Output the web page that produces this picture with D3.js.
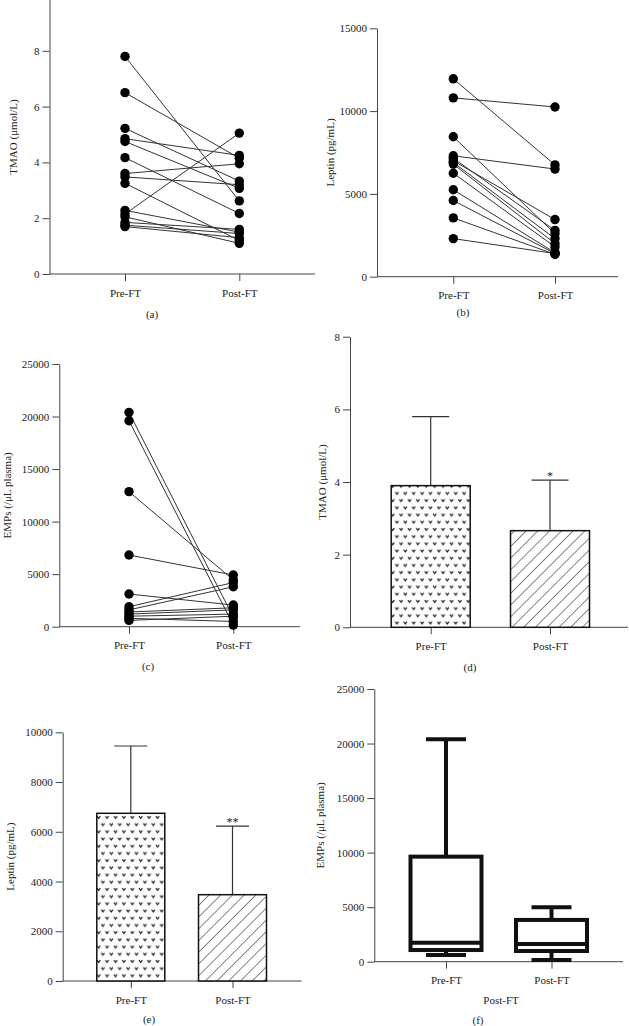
<!DOCTYPE html>
<html>
<head>
<meta charset="utf-8">
<script src="https://cdn.jsdelivr.net/npm/d3@7"></script>
<style>
body { margin: 0; background: #fff; }
text { font-family: "Liberation Serif", "Times New Roman", serif; fill: #222; }
</style>
</head>
<body>
<svg id="fig" width="629" height="1026"></svg>
<script>
const groups = ["Pre-FT", "Post-FT"];

// (a) TMAO, paired before / after
const tmaoPre  = [7.8, 6.5, 5.22, 4.85, 4.75, 4.17, 3.6, 3.48, 3.25, 2.28, 2.15, 2.05, 1.85, 1.75, 1.7];
const tmaoPost = [2.62, 4.15, 3.33, 4.25, 3.07, 2.17, 3.95, 3.2, 1.2, 1.5, 5.05, 1.1, 1.6, 1.45, 1.3];
const tmaoTicks = [0, 2, 4, 6, 8];

// (b) Leptin, paired
const leptinPre  = [11950, 10800, 8450, 7300, 7150, 7000, 6900, 6800, 6250, 5250, 4600, 3550, 2300];
const leptinPost = [6750, 10250, 2600, 6500, 2800, 3450, 2300, 2000, 1800, 1450, 1400, 1350, 1400];
const leptinTicks = [0, 5000, 10000, 15000];

// (c) EMPs, paired
const empPre  = [20400, 19600, 12850, 6820, 3110, 1900, 1600, 1400, 1200, 1000, 800, 600];
const empPost = [900, 150, 4450, 4920, 2060, 4200, 3800, 1800, 1600, 1200, 500, 1000];
const empTicks = [0, 5000, 10000, 15000, 20000, 25000];

// (d) TMAO mean + SD
const tmaoMean = [3.9, 2.66];
const tmaoSD = [1.9, 1.39];
const tmaoSig = ["", "*"];

// (e) Leptin mean + SD
const leptinMean = [6743, 3470];
const leptinSD = [2707, 2760];
const leptinSig = ["", "**"];
const leptinBarTicks = [0, 2000, 4000, 6000, 8000, 10000];

// (f) EMPs box plot
const empMin = [615, 150];
const empQ1 = [1070, 980];
const empMedian = [1740, 1620];
const empQ3 = [9630, 3830];
const empMax = [20400, 4990];

const panelLetters = ["(a)", "(b)", "(c)", "(d)", "(e)", "(f)"];

let svg = d3.select("#fig");
let fmt = d3.format("d");
let fs = 11;

let defs = svg.append("defs");
// little "v" marks for the Pre-FT bars
let dots = defs.append("pattern").attr("id", "vmarks")
    .attr("patternUnits", "userSpaceOnUse").attr("width", 8.4).attr("height", 14.4);
dots.append("rect").attr("width", 8.4).attr("height", 14.4).attr("fill", "#fff");
[[2.1, 3.6], [6.3, 10.8]].forEach(p => {
    dots.append("path")
        .attr("d", `M${p[0] - 1.6},${p[1] - 1} L${p[0]},${p[1] + 1.1} L${p[0] + 1.6},${p[1] - 1}`)
        .attr("fill", "none").attr("stroke", "#222").attr("stroke-width", 1.2);
});
// diagonal hatch for Post-FT bars
let hatch = defs.append("pattern").attr("id", "hatch")
    .attr("patternUnits", "userSpaceOnUse").attr("width", 8.3).attr("height", 8.3)
    .attr("patternTransform", "rotate(45)");
hatch.append("rect").attr("width", 8.3).attr("height", 8.3).attr("fill", "#fff");
hatch.append("line").attr("x1", 0).attr("y1", 0).attr("x2", 0).attr("y2", 8.3)
    .attr("stroke", "#222").attr("stroke-width", 1.1);

function drawAxes(cfg) {
    let x = d3.scalePoint().domain(groups).range(cfg.xr);
    let y = d3.scaleLinear().domain(cfg.yd).range(cfg.yr);

    let ya = svg.append("g").attr("transform", `translate(${cfg.left},0)`)
        .call(d3.axisLeft(y).tickValues(cfg.ticks).tickFormat(fmt)
            .tickSize(7).tickSizeOuter(0).tickPadding(3));

    svg.append("line")
        .attr("x1", cfg.left).attr("x2", cfg.right)
        .attr("y1", y(0)).attr("y2", y(0))
        .attr("stroke", "#444").attr("stroke-width", 1);

    let xa = svg.append("g").attr("transform", `translate(0,${y(0)})`)
        .call(d3.axisBottom(x).tickSize(7).tickPadding(8));
    xa.select(".domain").remove();

    [ya, xa].forEach(g => {
        g.attr("font-family", null).attr("font-size", fs);
        g.selectAll("line, path").attr("stroke", "#444");
        g.selectAll("text").attr("fill", "#222");
    });

    svg.append("text")
        .attr("transform", `translate(${cfg.labelX},${(cfg.yr[0] + Math.max(cfg.yr[1], 0)) / 2}) rotate(-90)`)
        .attr("text-anchor", "middle").attr("font-size", fs)
        .text(cfg.label);

    svg.append("text").attr("x", cfg.letter[0]).attr("y", cfg.letter[1])
        .attr("text-anchor", "middle").attr("font-size", fs)
        .text(cfg.letterText);

    return {x: x, y: y};
}

function drawPaired(cfg, pre, post) {
    let s = drawAxes(cfg);
    let g = svg.append("g");
    pre.forEach((v, i) => {
        g.append("line")
            .attr("x1", s.x(groups[0])).attr("y1", s.y(v))
            .attr("x2", s.x(groups[1])).attr("y2", s.y(post[i]))
            .attr("stroke", "#333").attr("stroke-width", 1);
    });
    [pre, post].forEach((vals, k) => {
        g.selectAll(null).data(vals).enter().append("circle")
            .attr("cx", s.x(groups[k])).attr("cy", d => s.y(d))
            .attr("r", 4.7).attr("fill", "#000");
    });
}

function drawBars(cfg, means, sds, sig) {
    let s = drawAxes(cfg);
    let fills = ["url(#vmarks)", "url(#hatch)"];
    groups.forEach((grp, i) => {
        let cx = s.x(grp);
        let top = s.y(means[i] + sds[i]);
        svg.append("line").attr("x1", cx).attr("x2", cx)
            .attr("y1", s.y(means[i])).attr("y2", top)
            .attr("stroke", "#333").attr("stroke-width", 1.2);
        svg.append("line").attr("x1", cx - cfg.cap / 2).attr("x2", cx + cfg.cap / 2)
            .attr("y1", top).attr("y2", top)
            .attr("stroke", "#333").attr("stroke-width", 1.2);
        svg.append("rect")
            .attr("x", cx - cfg.barW / 2).attr("width", cfg.barW)
            .attr("y", s.y(means[i])).attr("height", s.y(0) - s.y(means[i]))
            .attr("fill", fills[i]).attr("stroke", "#111").attr("stroke-width", 1.5);
        if (sig[i]) {
            svg.append("text").attr("x", cx).attr("y", top - 0.5)
                .attr("text-anchor", "middle").attr("font-size", 12)
                .attr("fill", "#222")
                .text(sig[i]);
        }
    });
}

function drawBox(cfg) {
    let s = drawAxes(cfg);
    let g = svg.append("g").attr("stroke", "#111").attr("stroke-width", 4).attr("fill", "none");
    groups.forEach((grp, i) => {
        let cx = s.x(grp);
        let w = cfg.boxW;
        g.append("line").attr("x1", cx).attr("x2", cx).attr("y1", s.y(empQ3[i])).attr("y2", s.y(empMax[i]));
        g.append("line").attr("x1", cx).attr("x2", cx).attr("y1", s.y(empQ1[i])).attr("y2", s.y(empMin[i]));
        [empMax[i], empMin[i]].forEach(v => {
            g.append("line").attr("x1", cx - cfg.cap / 2).attr("x2", cx + cfg.cap / 2)
                .attr("y1", s.y(v)).attr("y2", s.y(v));
        });
        g.append("rect").attr("x", cx - w / 2).attr("width", w)
            .attr("y", s.y(empQ3[i])).attr("height", s.y(empQ1[i]) - s.y(empQ3[i]))
            .attr("fill", "#fff");
        g.append("line").attr("x1", cx - w / 2).attr("x2", cx + w / 2)
            .attr("y1", s.y(empMedian[i])).attr("y2", s.y(empMedian[i]));
    });
    svg.append("text").attr("x", 501).attr("y", 1004)
        .attr("text-anchor", "middle").attr("font-size", fs).text("Post-FT");
}

drawPaired({left: 49.5, right: 315, xr: [125, 239.3], yd: [0, 10], yr: [274, -5], ticks: tmaoTicks,
    label: "TMAO (\u03bcmol/L)", labelX: 17, letter: [152, 318], letterText: panelLetters[0]},
    tmaoPre, tmaoPost);

drawPaired({left: 377, right: 618, xr: [453.3, 555], yd: [0, 15000], yr: [276.7, 28.3], ticks: leptinTicks,
    label: "Leptin (pg/mL)", labelX: 334, letter: [463, 316], letterText: panelLetters[1]},
    leptinPre, leptinPost);

drawPaired({left: 59.3, right: 300, xr: [129, 233.3], yd: [0, 25000], yr: [626.7, 364], ticks: empTicks,
    label: "EMPs (/\u03bcL plasma)", labelX: 11, letter: [148, 670], letterText: panelLetters[2]},
    empPre, empPost);

drawBars({left: 350, right: 628, xr: [430.7, 550], yd: [0, 8], yr: [627.3, 336.7], ticks: tmaoTicks,
    label: "TMAO (\u03bcmol/L)", labelX: 326, letter: [470, 671], letterText: panelLetters[3],
    barW: 79, cap: 37}, tmaoMean, tmaoSD, tmaoSig);

drawBars({left: 62.7, right: 301.7, xr: [130.8, 232.5], yd: [0, 10000], yr: [981, 732.3], ticks: leptinBarTicks,
    label: "Leptin (pg/mL)", labelX: 14, letter: [149, 1023], letterText: panelLetters[4],
    barW: 68, cap: 33}, leptinMean, leptinSD, leptinSig);

drawBox({left: 374.3, right: 623, xr: [446, 551.5], yd: [0, 25000], yr: [961.7, 689], ticks: empTicks,
    label: "EMPs (/\u03bcL plasma)", labelX: 324, letter: [478, 1024], letterText: panelLetters[5],
    boxW: 71, cap: 40});
</script>
</body>
</html>
